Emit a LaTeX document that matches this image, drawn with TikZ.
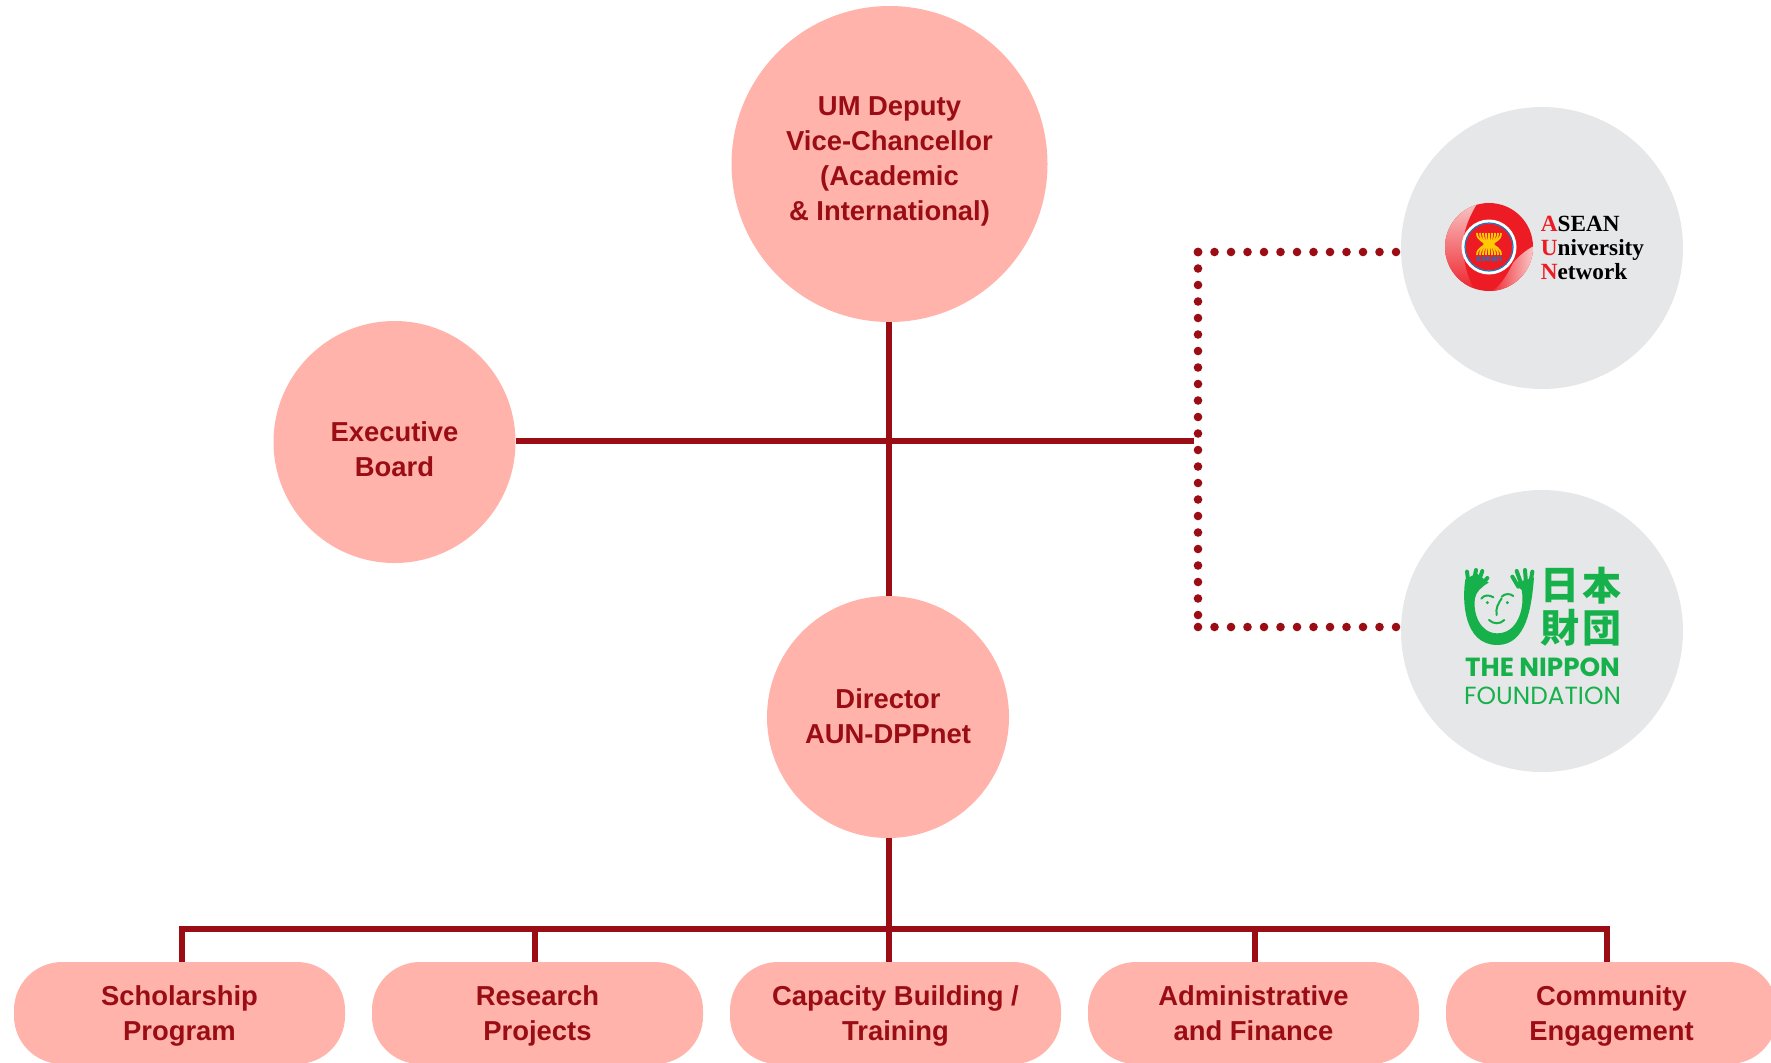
\documentclass[tikz,border=0pt]{standalone}
\usepackage{fontspec}
\setmainfont{Liberation Sans}
\newfontfamily\aunfont{Liberation Serif}
\newfontfamily\nipfont{Poppins}
\newfontfamily\cjkfont{Noto Sans CJK JP}
\definecolor{pinkfill}{HTML}{FFB3AB}
\definecolor{darkred}{HTML}{9B0D14}
\definecolor{logogray}{HTML}{E6E7E8}
\definecolor{aunred}{HTML}{ED1C24}
\definecolor{aunpale}{HTML}{FAD2D2}
\definecolor{aunblue}{HTML}{1F75BC}
\definecolor{aunyellow}{HTML}{FFCB05}
\definecolor{nipgreen}{HTML}{16B14B}
\tikzset{
    orgtext/.style={text=darkred,font=\fontsize{13.7pt}{17.5pt}\selectfont\bfseries,align=center,inner sep=0pt,text depth=0pt},
    bigcircle/.style={orgtext,circle,fill=pinkfill,minimum size=158pt},
    midcircle/.style={orgtext,circle,fill=pinkfill,minimum size=121pt},
    logocircle/.style={circle,fill=logogray,minimum size=141pt,inner sep=0pt},
    pillbox/.style={orgtext,rectangle,rounded corners=24pt,fill=pinkfill,minimum width=165.5pt,minimum height=51pt},
    mainline/.style={darkred,line width=2.75pt},
    stubline/.style={darkred,line width=2.6pt},
    dotline/.style={darkred,line width=4.3pt,line cap=round,dash pattern=on 0pt off 8.25pt},
    nipstroke/.style={nipgreen,line width=1pt,line cap=round},
    fingerstroke/.style={nipgreen,line width=2pt,line cap=round}
}
\begin{document}
\begin{tikzpicture}[x=0.5pt,y=-0.5pt]
        \useasboundingbox (0,0) rectangle (1771,1062);

        \node (deputy) at (889.5,164)[bigcircle,text depth=5pt]{UM Deputy\\Vice-Chancellor\\(Academic\\\& International)};
        \node (board) at (394.5,442)[midcircle,text height=34.3pt]{Executive\\Board};
        \node (director) at (888,717)[midcircle,text depth=1.1pt]{Director\\AUN-DPPnet};
        \node (aun) at (1542,248)[logocircle]{};
        \node (nippon) at (1542,631)[logocircle]{};

        \node (scholarship) at (179.5,1013)[pillbox]{Scholarship\\Program};
        \node (research) at (537.5,1013)[pillbox]{Research\\Projects};
        \node (capacity) at (895.5,1013)[pillbox]{Capacity Building /\\Training};
        \node (admin) at (1253.5,1013)[pillbox]{Administrative\\and Finance};
        \node (community) at (1611.5,1013)[pillbox]{Community\\Engagement};

        \coordinate (joint) at (1194,441);
        \coordinate (cross) at (889,441);
        \coordinate (aunend) at (1396,252);
        \coordinate (nipend) at (1396,627);
        \coordinate (dottop) at (1198,252);
        \coordinate (dotbottom) at (1198,627);
        \coordinate (busmid) at (889,929);
        \coordinate (busleft) at (182,929);
        \coordinate (busright) at (1607,929);
        \coordinate (busb) at (535,929);
        \coordinate (busd) at (1255,929);

        \draw[mainline] (deputy.south -| cross) -- (director.north -| cross);
        \draw[mainline] (board.east |- joint) -- (joint);
        \draw[mainline] (director.south -| busmid) -- (busmid);
        \draw[mainline] (busleft |- scholarship.north) -- (busleft) -- (busright) -- (busright |- community.north);
        \draw[stubline] (busb) -- (busb |- research.north);
        \draw[mainline] (busmid) -- (busmid |- capacity.north);
        \draw[stubline] (busd) -- (busd |- admin.north);
        \draw[dotline] (dottop) -- (aunend);
        \draw[dotline] (dottop) -- (dotbottom);
        \draw[dotline] (dotbottom) -- (nipend);

        \fill[aunred] (1489,247) circle (44);
        \begin{scope}
            \clip (1489,247) circle (44);
            \shade[top color=aunpale,bottom color=aunred] (1440,195) -- (1482,195) .. controls (1472,212) and (1464,225) .. (1463,245) .. controls (1463,265) and (1470,285) .. (1478,295) -- (1440,295) -- cycle;
            \shade[left color=aunred,right color=aunpale] (1536,245) .. controls (1525,250) and (1517,258) .. (1513,263) .. controls (1507,275) and (1500,288) .. (1488,293) -- (1536,295) -- cycle;
        \end{scope}
        \fill[white] (1489,247) circle (27.5);
        \fill[aunred] (1489,247) circle (23.7);
        \draw[aunblue,line width=0.6pt] (1489,247) circle (24);
        \foreach \s in {-12,-9,...,12}
            {
                \draw[aunyellow,line width=0.9pt] (1489+\s,233) .. controls (1489+\s,241) and (1489+0.35*\s,241) .. (1489+0.35*\s,244) .. controls (1489+0.35*\s,247) and (1489+\s,247) .. (1489+\s,255);
            }
        \node (aunsmall) at (1489,259)[text=aunblue,font=\fontsize{4.6pt}{4.6pt}\selectfont\bfseries,inner sep=0pt]{asean};
        \node (aunname) at (1540.5,248)[anchor=west,inner sep=0pt,align=left,font=\aunfont\fontsize{11.6pt}{12.1pt}\selectfont\bfseries]{\textcolor{aunred}{A}SEAN\\\textcolor{aunred}{U}niversity\\\textcolor{aunred}{N}etwork};

        \begin{scope}[shift={(1390,490)},scale=0.3333]
            \fill[nipgreen] (226,268) .. controls (216,330) and (220,465) .. (322,465) .. controls (410,465) and (425,350) .. (432,262) -- (372,280) -- (395,300) .. controls (405,350) and (385,430) .. (322,430) .. controls (270,430) and (248,370) .. (255,325) .. controls (258,305) and (275,290) .. (296,278) -- (260,250) -- cycle;
            \foreach \a/\b/\c/\d in {236/285/231/245,250/280/258/240,262/285/277/243,270/290/292/264,420/285/427/245,408/280/405/240,395/285/380/243,385/290/367/260}
                {
                    \draw[fingerstroke] (\a,\b) -- (\c,\d);
                }
            \fill[nipgreen] (292,338) circle (5);
            \fill[nipgreen] (352,338) circle (5);
            \draw[nipstroke] (274,326) .. controls (282,314) and (298,314) .. (310,322);
            \draw[nipstroke] (335,320) .. controls (345,310) and (360,310) .. (370,318);
            \draw[nipstroke] (335,325) .. controls (325,340) and (316,355) .. (320,375);
            \draw[nipstroke] (297,390) .. controls (310,403) and (330,403) .. (343,390);
        \end{scope}
        \foreach \x/\y/\c in {1560/586/日,1602/586/本,1560/628/財,1602/628/団}
            {
                \node at (\x,\y)[text=nipgreen,font=\cjkfont\fontsize{19.5pt}{19.5pt}\selectfont\bfseries,inner sep=0pt]{\c};
            }
        \node (nipone) at (1542.5,667)[text=nipgreen,inner sep=0pt,font=\nipfont\fontsize{13.1pt}{13.1pt}\selectfont\bfseries]{THE NIPPON};
        \node (niptwo) at (1542.5,695.5)[text=nipgreen,inner sep=0pt,font=\nipfont\fontsize{12.4pt}{12.4pt}\selectfont]{FOUNDATION};
\end{tikzpicture}
\end{document}
